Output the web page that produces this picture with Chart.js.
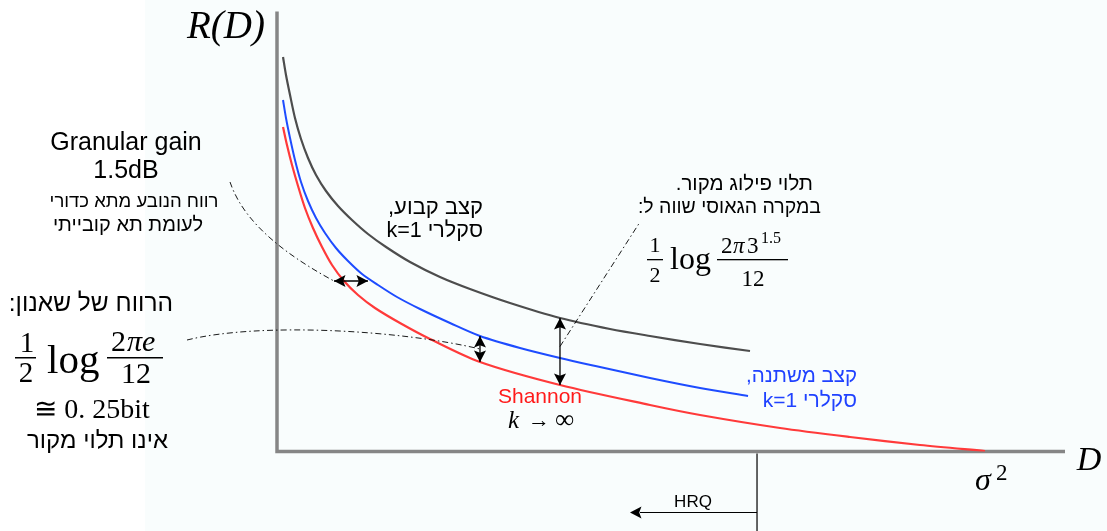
<!DOCTYPE html>
<html>
<head>
<meta charset="utf-8">
<script src="https://cdn.jsdelivr.net/npm/chart.js@4.4.1/dist/chart.umd.min.js"></script>
<style>
  html, body { margin: 0; padding: 0; background: #fff; }
  #wrap { width: 1107px; height: 531px; position: relative; }
</style>
</head>
<body>
<div id="wrap"><canvas id="rd"></canvas></div>
<script>
// R(D) curves: distortion D (sigma^2 = 1) against rate in bits
const grayD = [0.0085, 0.0127, 0.0184, 0.0254, 0.0339, 0.0438, 0.0551, 0.0692, 0.0862, 0.1059, 0.1285,
               0.1540, 0.1879, 0.2302, 0.2726, 0.3291, 0.3997, 0.4703, 0.5268, 0.5975, 0.6681];
const grayR = [3.945, 3.765, 3.565, 3.335, 3.125, 2.935, 2.765, 2.605, 2.455, 2.315, 2.175,
               2.045, 1.895, 1.745, 1.625, 1.485, 1.335, 1.225, 1.155, 1.075, 1.005];

const blueD = [0.0085, 0.0127, 0.0184, 0.0254, 0.0339, 0.0438, 0.0551, 0.0678, 0.0833, 0.1003, 0.1201,
               0.1427, 0.1695, 0.2020, 0.2444, 0.2867, 0.3432, 0.3997, 0.4562, 0.5268, 0.5975, 0.6653];
const blueR = [3.515, 3.335, 3.135, 2.915, 2.695, 2.505, 2.335, 2.185, 2.035, 1.905, 1.775,
               1.665, 1.545, 1.425, 1.285, 1.155, 1.035, 0.935, 0.845, 0.735, 0.635, 0.555];

const redD = [0.0085, 0.0141, 0.0212, 0.0297, 0.0395, 0.0508, 0.0636, 0.0777, 0.0946, 0.1144, 0.1384,
              0.1737, 0.2161, 0.2867, 0.3997, 0.5268, 0.5975, 0.7105, 0.8093, 0.9082, 1.0];
const redR = [3.245, 3.065, 2.865, 2.655, 2.435, 2.235, 2.045, 1.865, 1.705, 1.565, 1.435,
              1.285, 1.125, 0.895, 0.665, 0.465, 0.365, 0.235, 0.145, 0.065, 0.005];

// horizontal gap (granular gain): same rate, red -> blue distortion
const granularR = 1.705;
const granularD = [0.0805, 0.1285];
// HRQ limit on the distortion axis
const hrqD = 0.678;

function pts(xs, ys) {
    return xs.map((x, i) => ({ x: x, y: ys[i] }));
}

function text(ctx, str, x, y, font, color, align, rtl) {
    ctx.save();
    ctx.font = font;
    ctx.fillStyle = color || '#000';
    ctx.textAlign = align || 'center';
    ctx.textBaseline = 'alphabetic';
    ctx.direction = rtl ? 'rtl' : 'ltr';
    ctx.fillText(str, x, y);
    ctx.restore();
}

function head(ctx, x, y, dx, dy) {
    // filled arrow head with tip at (x, y), pointing along (dx, dy)
    const len = 11.5, half = 6;
    const n = Math.hypot(dx, dy);
    const ux = dx / n, uy = dy / n;
    ctx.beginPath();
    ctx.moveTo(x, y);
    ctx.lineTo(x - ux * len - uy * half, y - uy * len + ux * half);
    ctx.lineTo(x - ux * len * 0.8, y - uy * len * 0.8);
    ctx.lineTo(x - ux * len + uy * half, y - uy * len - ux * half);
    ctx.closePath();
    ctx.fill();
}

function doubleArrow(ctx, x1, y1, x2, y2) {
    ctx.save();
    ctx.strokeStyle = '#000';
    ctx.fillStyle = '#000';
    ctx.lineWidth = 1.3;
    ctx.beginPath();
    ctx.moveTo(x1, y1);
    ctx.lineTo(x2, y2);
    ctx.stroke();
    head(ctx, x1, y1, x1 - x2, y1 - y2);
    head(ctx, x2, y2, x2 - x1, y2 - y1);
    ctx.restore();
}

const serif = '"Liberation Serif", "Times New Roman", serif';
const sans = '"Liberation Sans", Arial, sans-serif';

const decor = {
    id: 'decor',
    beforeDraw(chart) {
        const ctx = chart.ctx;
        ctx.save();
        ctx.fillStyle = '#ffffff';
        ctx.fillRect(0, 0, chart.width, chart.height);
        ctx.fillStyle = '#f9fdfd';
        ctx.fillRect(145, 0, chart.width - 145, chart.height);
        ctx.restore();
    },
    beforeDatasetsDraw(chart) {
        const ctx = chart.ctx;
        const xs = chart.scales.x, ys = chart.scales.y;
        const x0 = xs.getPixelForValue(0), y0 = ys.getPixelForValue(0);
        ctx.save();
        ctx.strokeStyle = '#868686';
        ctx.lineWidth = 3.5;
        ctx.beginPath();
        ctx.moveTo(x0, ys.getPixelForValue(ys.max));
        ctx.lineTo(x0, y0);
        ctx.lineTo(xs.getPixelForValue(xs.max), y0);
        ctx.stroke();
        ctx.restore();
    },
    afterDraw(chart) {
        const ctx = chart.ctx;
        const xs = chart.scales.x, ys = chart.scales.y;
        const px = v => xs.getPixelForValue(v);
        const py = v => ys.getPixelForValue(v);

        // gap arrows between the curves
        const gy = py(granularR);
        const gx1 = px(granularD[0]), gx2 = px(granularD[1]);
        doubleArrow(ctx, gx1, gy, gx2, gy);

        const sx = px(blueD[15]);
        const sTop = py(blueR[15]), sBot = py(redR[13]);
        doubleArrow(ctx, sx, sTop, sx, sBot);

        const cx = px(grayD[16]);
        const cTop = py(grayR[16]), cBot = py(redR[14]);
        doubleArrow(ctx, cx, cTop, cx, cBot);

        // dash-dot leaders
        ctx.save();
        ctx.strokeStyle = '#000';
        ctx.lineWidth = 0.9;
        ctx.setLineDash([6, 3, 1.5, 3]);
        ctx.beginPath();
        ctx.moveTo(230, 182);
        ctx.bezierCurveTo(238, 205, 258, 240, gx1, gy);
        ctx.stroke();
        ctx.beginPath();
        ctx.moveTo(187, 340);
        ctx.bezierCurveTo(260, 322, 400, 330, sx, (sTop + sBot) / 2);
        ctx.stroke();
        ctx.beginPath();
        ctx.moveTo(cx, (cTop + cBot) / 2 - 5);
        ctx.lineTo(640, 222);
        ctx.stroke();
        ctx.restore();

        // HRQ marker
        const hx = px(hrqD);
        ctx.save();
        ctx.strokeStyle = '#000';
        ctx.fillStyle = '#000';
        ctx.lineWidth = 1.2;
        ctx.beginPath();
        ctx.moveTo(hx, py(0) + 2);
        ctx.lineTo(hx, chart.height);
        ctx.moveTo(hx, 512.5);
        ctx.lineTo(640, 512.5);
        ctx.stroke();
        head(ctx, 630, 512.5, -1, 0);
        ctx.restore();
        text(ctx, 'HRQ', 693, 507, '17px ' + sans, '#000');

        // axis labels
        text(ctx, 'R(D)', 187, 38, 'italic 39px ' + serif, '#000', 'left');
        text(ctx, 'D', 1089, 470, 'italic 34px ' + serif, '#000');
        text(ctx, 'σ', 975, 490, 'italic 32px ' + serif, '#000', 'left');
        text(ctx, '2', 996, 480, '23px ' + serif, '#000', 'left');

        // left notes
        text(ctx, 'Granular gain', 126, 150, '25px ' + sans, '#000');
        text(ctx, '1.5dB', 126, 178, '25px ' + sans, '#000');
        text(ctx, 'רווח הנובע מתא כדורי', 134, 207, '18.5px ' + sans, '#000', 'center', true);
        text(ctx, 'לעומת תא קובייתי', 128, 231, '20px ' + sans, '#000', 'center', true);

        text(ctx, 'הרווח של שאנון:', 173, 311, '24.5px ' + sans, '#000', 'right', true);
        // 1/2 log 2πe/12
        text(ctx, '1', 27, 352, '29px ' + serif, '#000');
        text(ctx, '2', 26, 382, '29px ' + serif, '#000');
        text(ctx, 'log', 47, 373, '41px ' + serif, '#000', 'left');
        text(ctx, '2', 111, 351, '30px ' + serif, '#000', 'left');
        text(ctx, 'πe', 127, 351, 'italic 30px ' + serif, '#000', 'left');
        text(ctx, '12', 136, 383, '30px ' + serif, '#000');
        ctx.save();
        ctx.fillStyle = '#000';
        ctx.fillRect(15, 357, 21, 1.5);
        ctx.fillRect(107, 357, 56, 1.5);
        ctx.restore();
        text(ctx, '≅ 0. 25bit', 92, 418, '28px ' + serif, '#000');
        text(ctx, 'אינו תלוי מקור', 168, 448, '24px ' + sans, '#000', 'right', true);

        // curve notes
        text(ctx, 'קצב קבוע,', 483, 214, '22px ' + sans, '#000', 'right', true);
        text(ctx, 'סקלרי k=1', 483, 237, '21.5px ' + sans, '#000', 'right', true);

        text(ctx, 'קצב משתנה,', 857, 382, '20.5px ' + sans, '#2042ff', 'right', true);
        text(ctx, 'סקלרי k=1', 857, 407, '21px ' + sans, '#2042ff', 'right', true);

        text(ctx, 'Shannon', 540, 403, '21px ' + sans, '#ff1a1a');
        text(ctx, 'k', 508, 428, 'italic 25px ' + serif, '#000', 'left');
        text(ctx, '→', 528, 427, '22px ' + serif, '#000', 'left');
        text(ctx, '∞', 555, 428, '27px ' + serif, '#000', 'left');

        text(ctx, 'תלוי פילוג מקור.', 813, 190, '20.5px ' + sans, '#000', 'right', true);
        text(ctx, 'במקרה הגאוסי שווה ל:', 821, 213, '19.5px ' + sans, '#000', 'right', true);
        // 1/2 log 2π3^1.5/12
        text(ctx, '1', 655, 252, '22px ' + serif, '#000');
        text(ctx, '2', 655, 282, '22px ' + serif, '#000');
        text(ctx, 'log', 670, 269, '32px ' + serif, '#000', 'left');
        text(ctx, '2', 721, 253, '23px ' + serif, '#000', 'left');
        text(ctx, 'π', 733, 253, 'italic 23px ' + serif, '#000', 'left');
        text(ctx, '3', 747, 253, '23px ' + serif, '#000', 'left');
        text(ctx, '1.5', 761, 243, '16px ' + serif, '#000', 'left');
        text(ctx, '12', 753, 286, '23px ' + serif, '#000');
        ctx.save();
        ctx.fillStyle = '#000';
        ctx.fillRect(647, 259, 16, 1.3);
        ctx.fillRect(717, 259, 71, 1.3);
        ctx.restore();
    }
};

const line = (data, color, width) => ({
    data: data,
    showLine: true,
    borderColor: color,
    borderWidth: width,
    pointRadius: 0,
    tension: 0.3,
    fill: false
});

new Chart(document.getElementById('rd').getContext('2d'), {
    type: 'scatter',
    data: {
        datasets: [
            line(pts(grayD, grayR), '#4d4d4d', 2.2),
            line(pts(blueD, blueR), '#1e4cff', 2),
            line(pts(redD, redR), '#ff3a3a', 2.2)
        ]
    },
    options: {
        responsive: true,
        maintainAspectRatio: false,
        animation: false,
        events: [],
        layout: { padding: { left: 277, right: 42, top: 11.5, bottom: 79.5 } },
        plugins: { legend: { display: false }, tooltip: { enabled: false } },
        scales: {
            x: { type: 'linear', display: false, min: 0, max: 1.113 },
            y: { type: 'linear', display: false, min: 0, max: 4.4 }
        }
    },
    plugins: [decor]
});
</script>
</body>
</html>
